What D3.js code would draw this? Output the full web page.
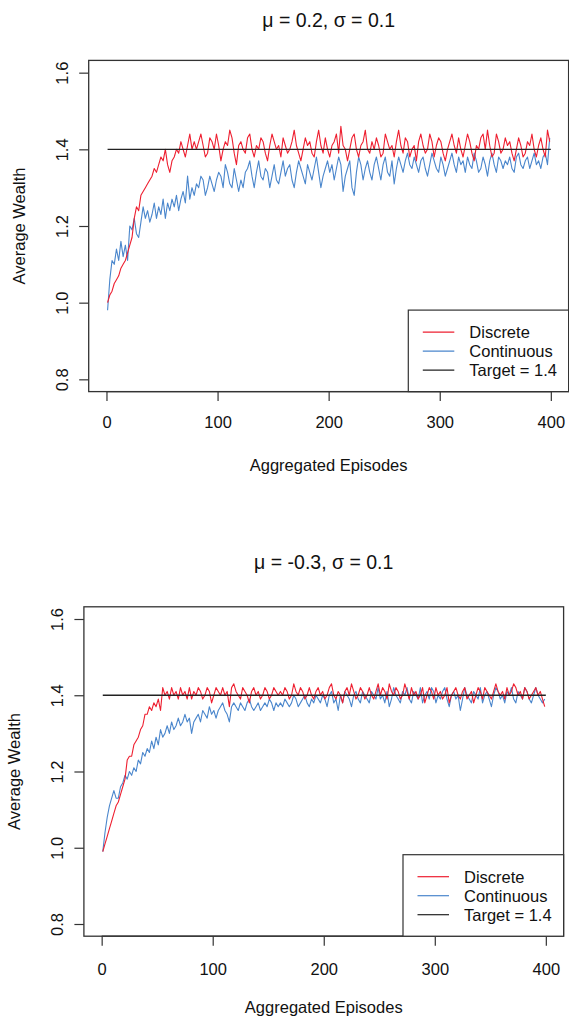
<!DOCTYPE html>
<html>
<head>
<meta charset="utf-8">
<script src="https://cdn.jsdelivr.net/npm/d3@7"></script>
<style>
  html, body { margin: 0; padding: 0; background: #fff; }
  svg { display: block; font-family: "Liberation Sans", Arial, sans-serif; }
</style>
</head>
<body>
<svg id="chart" width="569" height="1019"></svg>
<script>
// ---------- data (one value every 2 episodes) ----------
const xTicks = [0, 100, 200, 300, 400];
const yTicks = [0.8, 1.0, 1.2, 1.4, 1.6];
const target = 1.4;
const titles = ["\u03bc = 0.2, \u03c3 = 0.1", "\u03bc = -0.3, \u03c3 = 0.1"];
const seriesNames = ["Discrete", "Continuous", "Target = 1.4"];
const xLabel = "Aggregated Episodes";
const yLabel = "Average Wealth";

// panel 1 : mu = 0.2
const discreteA = [
  1.00, 1.02, 1.03, 1.05, 1.06, 1.07, 1.09, 1.10, 1.11, 1.13, 1.15, 1.17, 1.22, 1.25, 1.24, 1.28, 1.29, 1.30, 1.31, 1.32,
  1.33, 1.35, 1.34, 1.36, 1.38, 1.37, 1.40, 1.36, 1.34, 1.37, 1.38, 1.40, 1.39, 1.42, 1.40, 1.38, 1.41, 1.44, 1.40, 1.42,
  1.40, 1.42, 1.44, 1.41, 1.38, 1.39, 1.43, 1.42, 1.40, 1.44, 1.41, 1.37, 1.40, 1.42, 1.41, 1.45, 1.43, 1.39, 1.36, 1.41,
  1.42, 1.40, 1.39, 1.43, 1.44, 1.40, 1.38, 1.41, 1.40, 1.43, 1.42, 1.39, 1.37, 1.41, 1.44, 1.42, 1.40, 1.41, 1.38, 1.43,
  1.41, 1.39, 1.40, 1.42, 1.45, 1.41, 1.39, 1.37, 1.40, 1.43, 1.41, 1.42, 1.39, 1.38, 1.42, 1.45, 1.41, 1.39, 1.43, 1.40,
  1.38, 1.41, 1.42, 1.44, 1.39, 1.46, 1.41, 1.40, 1.37, 1.40, 1.43, 1.44, 1.40, 1.38, 1.41, 1.42, 1.45, 1.40, 1.39, 1.42,
  1.40, 1.43, 1.41, 1.38, 1.39, 1.44, 1.42, 1.40, 1.41, 1.38, 1.42, 1.45, 1.41, 1.39, 1.43, 1.42, 1.38, 1.40, 1.41, 1.37,
  1.42, 1.44, 1.41, 1.39, 1.40, 1.44, 1.42, 1.38, 1.41, 1.43, 1.42, 1.39, 1.37, 1.40, 1.42, 1.44, 1.41, 1.39, 1.43, 1.40,
  1.38, 1.41, 1.44, 1.42, 1.39, 1.37, 1.41, 1.40, 1.43, 1.44, 1.40, 1.45, 1.41, 1.38, 1.39, 1.44, 1.42, 1.39, 1.40, 1.43,
  1.41, 1.42, 1.39, 1.37, 1.40, 1.43, 1.41, 1.38, 1.39, 1.42, 1.41, 1.44, 1.40, 1.38, 1.41, 1.43, 1.40, 1.38, 1.45, 1.42
];
const continuousA = [
  0.98, 1.06, 1.11, 1.10, 1.14, 1.11, 1.16, 1.12, 1.15, 1.11, 1.20, 1.19, 1.22, 1.18, 1.17, 1.21, 1.25, 1.22, 1.24, 1.21,
  1.23, 1.26, 1.22, 1.25, 1.23, 1.27, 1.22, 1.26, 1.24, 1.27, 1.25, 1.28, 1.24, 1.27, 1.29, 1.26, 1.33, 1.27, 1.30, 1.28,
  1.31, 1.30, 1.33, 1.32, 1.28, 1.30, 1.33, 1.31, 1.29, 1.32, 1.34, 1.33, 1.30, 1.36, 1.34, 1.31, 1.30, 1.35, 1.32, 1.29,
  1.32, 1.30, 1.34, 1.35, 1.37, 1.33, 1.30, 1.34, 1.37, 1.33, 1.32, 1.35, 1.34, 1.30, 1.33, 1.36, 1.32, 1.31, 1.34, 1.37,
  1.33, 1.35, 1.36, 1.32, 1.30, 1.34, 1.37, 1.35, 1.33, 1.31, 1.36, 1.34, 1.32, 1.35, 1.38, 1.34, 1.30, 1.33, 1.35, 1.37,
  1.34, 1.36, 1.32, 1.35, 1.38, 1.36, 1.29, 1.33, 1.35, 1.37, 1.30, 1.28, 1.34, 1.38, 1.36, 1.32, 1.35, 1.37, 1.34, 1.32,
  1.36, 1.38, 1.35, 1.32, 1.36, 1.38, 1.34, 1.33, 1.37, 1.31, 1.35, 1.38, 1.36, 1.34, 1.37, 1.39, 1.36, 1.35, 1.38, 1.36,
  1.34, 1.37, 1.38, 1.35, 1.33, 1.36, 1.39, 1.37, 1.35, 1.34, 1.38, 1.36, 1.33, 1.35, 1.37, 1.39, 1.36, 1.34, 1.38, 1.36,
  1.37, 1.34, 1.38, 1.36, 1.35, 1.39, 1.37, 1.34, 1.35, 1.38, 1.36, 1.33, 1.37, 1.39, 1.36, 1.34, 1.38, 1.37, 1.35, 1.37,
  1.36, 1.38, 1.35, 1.34, 1.38, 1.39, 1.36, 1.35, 1.37, 1.38, 1.35, 1.37, 1.39, 1.36, 1.37, 1.35, 1.38, 1.39, 1.36, 1.43
];

// panel 2 : mu = -0.3
const discreteB = [
  0.99, 1.01, 1.03, 1.05, 1.07, 1.09, 1.11, 1.12, 1.14, 1.16, 1.18, 1.23, 1.24, 1.24, 1.27, 1.28, 1.29, 1.31, 1.32, 1.35,
  1.35, 1.37, 1.36, 1.38, 1.37, 1.39, 1.36, 1.42, 1.40, 1.41, 1.39, 1.42, 1.40, 1.41, 1.39, 1.42, 1.40, 1.41, 1.39, 1.42,
  1.39, 1.41, 1.40, 1.42, 1.41, 1.39, 1.40, 1.42, 1.41, 1.38, 1.40, 1.42, 1.41, 1.40, 1.42, 1.40, 1.41, 1.37, 1.42, 1.43,
  1.41, 1.40, 1.39, 1.42, 1.41, 1.40, 1.38, 1.41, 1.42, 1.40, 1.41, 1.39, 1.40, 1.42, 1.41, 1.39, 1.40, 1.42, 1.41, 1.40,
  1.41, 1.40, 1.42, 1.41, 1.39, 1.40, 1.43, 1.41, 1.40, 1.42, 1.41, 1.39, 1.40, 1.42, 1.40, 1.39, 1.41, 1.42, 1.40, 1.41,
  1.39, 1.40, 1.42, 1.43, 1.40, 1.39, 1.41, 1.40, 1.38, 1.41, 1.42, 1.40, 1.43, 1.41, 1.39, 1.40, 1.42, 1.41, 1.39, 1.40,
  1.42, 1.40, 1.39, 1.41, 1.43, 1.40, 1.42, 1.41, 1.39, 1.43, 1.41, 1.40, 1.42, 1.41, 1.39, 1.40, 1.43, 1.41, 1.39, 1.42,
  1.40, 1.41, 1.39, 1.40, 1.42, 1.38, 1.40, 1.42, 1.41, 1.39, 1.42, 1.40, 1.41, 1.39, 1.40, 1.42, 1.38, 1.40, 1.41, 1.42,
  1.40, 1.39, 1.41, 1.42, 1.39, 1.40, 1.41, 1.38, 1.40, 1.42, 1.41, 1.39, 1.42, 1.41, 1.40, 1.39, 1.41, 1.43, 1.41, 1.40,
  1.41, 1.39, 1.42, 1.40, 1.41, 1.43, 1.42, 1.40, 1.41, 1.39, 1.42, 1.41, 1.39, 1.40, 1.41, 1.42, 1.40, 1.41, 1.39, 1.37
];
const continuousB = [
  0.99, 1.04, 1.08, 1.11, 1.13, 1.15, 1.13, 1.13, 1.16, 1.17, 1.19, 1.18, 1.20, 1.19, 1.21, 1.20, 1.23, 1.22, 1.25, 1.24,
  1.26, 1.25, 1.28, 1.26, 1.29, 1.27, 1.31, 1.29, 1.30, 1.32, 1.30, 1.33, 1.31, 1.32, 1.34, 1.32, 1.33, 1.35, 1.33, 1.34,
  1.30, 1.33, 1.34, 1.35, 1.33, 1.36, 1.35, 1.34, 1.37, 1.35, 1.36, 1.34, 1.36, 1.37, 1.38, 1.36, 1.35, 1.33, 1.37, 1.38,
  1.37, 1.36, 1.38, 1.37, 1.36, 1.38, 1.39, 1.37, 1.36, 1.37, 1.38, 1.36, 1.37, 1.38, 1.37, 1.39, 1.38, 1.36, 1.38, 1.37,
  1.38, 1.37, 1.39, 1.38, 1.37, 1.38, 1.40, 1.39, 1.37, 1.38, 1.39, 1.40, 1.38, 1.37, 1.39, 1.38, 1.40, 1.39, 1.38, 1.40,
  1.39, 1.37, 1.40, 1.41, 1.38, 1.39, 1.36, 1.40, 1.38, 1.41, 1.40, 1.39, 1.37, 1.40, 1.41, 1.39, 1.38, 1.41, 1.40, 1.39,
  1.38, 1.41, 1.40, 1.39, 1.42, 1.39, 1.40, 1.38, 1.41, 1.37, 1.39, 1.42, 1.40, 1.39, 1.38, 1.41, 1.40, 1.42, 1.39, 1.38,
  1.41, 1.40, 1.39, 1.42, 1.38, 1.40, 1.41, 1.39, 1.42, 1.41, 1.38, 1.40, 1.39, 1.41, 1.42, 1.39, 1.37, 1.40, 1.41, 1.39,
  1.40, 1.36, 1.39, 1.42, 1.40, 1.39, 1.38, 1.41, 1.40, 1.39, 1.42, 1.38, 1.40, 1.41, 1.39, 1.37, 1.40, 1.42, 1.41, 1.39,
  1.40, 1.38, 1.41, 1.40, 1.42, 1.39, 1.38, 1.41, 1.40, 1.39, 1.42, 1.41, 1.39, 1.38, 1.40, 1.42, 1.40, 1.39, 1.38, 1.39
];

// episodes at which the values were read
const episodeStart = 1;
const episodeStep = 2;

// ---------- layout ----------
const colors = { discrete: "#ee1f30", continuous: "#4a86cc", target: "#222" };
const axisColor = "#333";
const fontSize = "16.5px";

const panels = [
  { title: titles[0], discrete: discreteA, continuous: continuousA,
    left: 88.7, right: 568.6, top: 60.4, bottom: 391.6,
    titleY: 26.5, tickLabX: 68, yLabX: 25, xTickBase: 428.5, xLabBase: 470.5,
    legendLeft: 408.3 },
  { title: titles[1], discrete: discreteB, continuous: continuousB,
    left: 83.9, right: 563.6, top: 606.8, bottom: 936.2,
    titleY: 568.5, tickLabX: 63, yLabX: 20, xTickBase: 975, xLabBase: 1013,
    legendLeft: 403 }
];

const svg = d3.select("#chart");

panels.forEach(p => {
  const g = svg.append("g");

  // R style: data range plus 4% on each side
  const x = d3.scaleLinear().domain([-16, 416]).range([p.left, p.right]);
  const y = d3.scaleLinear().domain([0.768, 1.632]).range([p.bottom, p.top]);

  const line = d3.line()
    .x((d, i) => x(episodeStart + i * episodeStep))
    .y(d => y(d));

  // series
  g.append("path").datum(p.continuous)
    .attr("d", line).attr("fill", "none")
    .attr("stroke", colors.continuous).attr("stroke-width", 1.1).attr("stroke-linejoin", "round");
  g.append("path").datum(p.discrete)
    .attr("d", line).attr("fill", "none")
    .attr("stroke", colors.discrete).attr("stroke-width", 1.1).attr("stroke-linejoin", "round");

  // target line
  g.append("line")
    .attr("x1", x(episodeStart)).attr("x2", x(400))
    .attr("y1", y(target)).attr("y2", y(target))
    .attr("stroke", colors.target).attr("stroke-width", 1.3);

  // x axis (ticks + labels)
  const xAxis = g.append("g")
    .attr("transform", `translate(0,${p.bottom})`)
    .call(d3.axisBottom(x).tickValues(xTicks).tickSize(9.5).tickPadding(0).tickFormat(d3.format("d")));
  xAxis.select(".domain").remove();
  xAxis.selectAll("line").attr("stroke", axisColor).attr("stroke-width", 1.2);
  xAxis.selectAll("text")
    .attr("y", p.xTickBase - p.bottom).attr("dy", null)
    .attr("fill", "#111").style("font-size", fontSize).style("font-family", "Liberation Sans, Arial, sans-serif");
  g.append("line")
    .attr("x1", x(xTicks[0])).attr("x2", x(xTicks[xTicks.length - 1]))
    .attr("y1", p.bottom).attr("y2", p.bottom)
    .attr("stroke", axisColor).attr("stroke-width", 1.2);

  // y axis (ticks + rotated labels)
  const yAxis = g.append("g")
    .attr("transform", `translate(${p.left},0)`)
    .call(d3.axisLeft(y).tickValues(yTicks).tickSize(9.5).tickFormat(d3.format(".1f")));
  yAxis.select(".domain").remove();
  yAxis.selectAll("line").attr("stroke", axisColor).attr("stroke-width", 1.2);
  yAxis.selectAll("text")
    .attr("transform", "rotate(-90)")
    .attr("x", 0).attr("y", p.tickLabX - p.left).attr("dy", null)
    .attr("text-anchor", "middle")
    .attr("fill", "#111").style("font-size", fontSize).style("font-family", "Liberation Sans, Arial, sans-serif");

  // plot box
  g.append("rect")
    .attr("x", p.left).attr("y", p.top)
    .attr("width", p.right - p.left).attr("height", p.bottom - p.top)
    .attr("fill", "none").attr("stroke", axisColor).attr("stroke-width", 1.3);

  // titles
  g.append("text")
    .attr("x", (p.left + p.right) / 2).attr("y", p.titleY)
    .attr("text-anchor", "middle").attr("fill", "#111")
    .style("font-size", "19.5px")
    .text(p.title);
  g.append("text")
    .attr("x", (p.left + p.right) / 2).attr("y", p.xLabBase)
    .attr("text-anchor", "middle").attr("fill", "#111")
    .style("font-size", fontSize)
    .text(xLabel);
  g.append("text")
    .attr("transform", `translate(${p.yLabX},${(p.top + p.bottom) / 2}) rotate(-90)`)
    .attr("text-anchor", "middle").attr("fill", "#111")
    .style("font-size", fontSize)
    .text(yLabel);

  // legend (bottom right, R style)
  const legTop = p.bottom - 81.5;
  const leg = g.append("g");
  leg.append("rect")
    .attr("x", p.legendLeft).attr("y", legTop)
    .attr("width", p.right - p.legendLeft).attr("height", p.bottom - legTop)
    .attr("fill", "#fff").attr("stroke", axisColor).attr("stroke-width", 1.2);
  const legColors = [colors.discrete, colors.continuous, colors.target];
  seriesNames.forEach((name, i) => {
    const ry = legTop + 22 + i * 19;
    leg.append("line")
      .attr("x1", p.legendLeft + 14.5).attr("x2", p.legendLeft + 46)
      .attr("y1", ry).attr("y2", ry)
      .attr("stroke", legColors[i]).attr("stroke-width", 1.2);
    leg.append("text")
      .attr("x", p.legendLeft + 61).attr("y", ry + 5.8)
      .attr("fill", "#111").style("font-size", fontSize)
      .text(name);
  });
});
</script>
</body>
</html>
